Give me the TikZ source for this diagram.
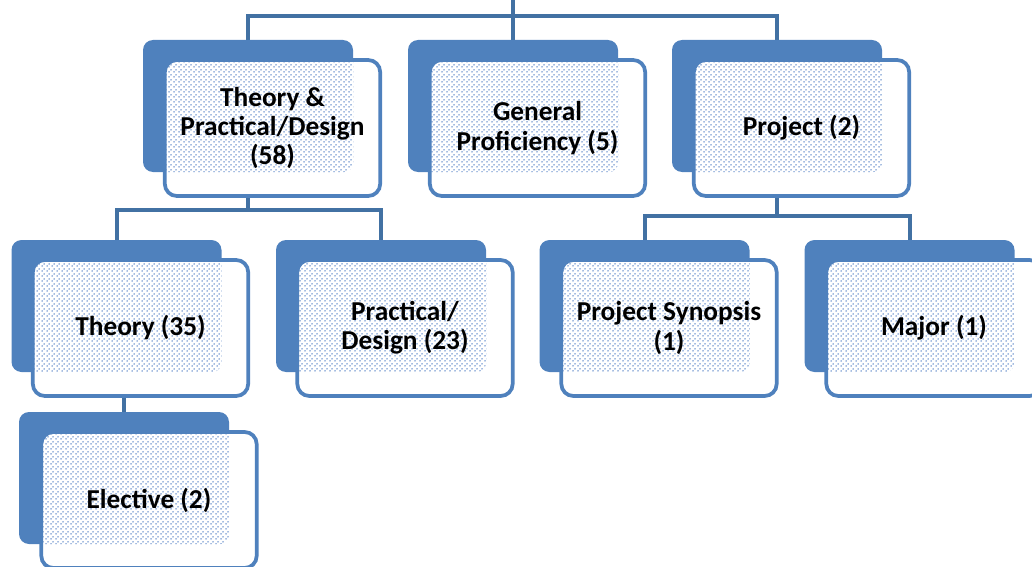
\documentclass[tikz,border=0pt]{standalone}
\usepackage{fontspec}
\setmainfont{Carlito}
\usetikzlibrary{patterns,backgrounds}
\definecolor{cblue}{RGB}{79,129,189}
\definecolor{clink}{RGB}{66,113,163}
\definecolor{cdots}{RGB}{72,120,194}
% staggered dot fill seen through the cards
\pgfdeclarepatternformonly{carddots}{\pgfpointorigin}{\pgfqpoint{3.4pt}{3.4pt}}{\pgfqpoint{3.4pt}{3.4pt}}{
  \pgfpathcircle{\pgfqpoint{0.85pt}{0.85pt}}{0.62pt}
  \pgfpathcircle{\pgfqpoint{2.55pt}{2.55pt}}{0.62pt}
  \pgfusepath{fill}}
\tikzset{
  back/.style={rectangle, rounded corners=7.5pt, fill=cblue,
    minimum width=157.5pt, minimum height=99pt, inner sep=0pt},
  card/.style={rectangle, rounded corners=9pt, draw=cblue, fill=white,
    line width=2.8pt, minimum width=161.5pt, minimum height=102pt,
    font=\fontsize{20.5}{22}\selectfont\bfseries, align=center,
    path picture={
      \clip[rounded corners=7.5pt] (#1.south west) rectangle (#1.north east);
      \fill[pattern=carddots, pattern color=cdots]
        (path picture bounding box.south west) rectangle (path picture bounding box.north east);
    }},
  link/.style={draw=clink, line width=3pt}
}

\begin{document}
\begin{tikzpicture}[x=0.75pt, y=-0.75pt]
  \useasboundingbox (0,0) rectangle (1032,567);

  % first row
  \node[back] (tpd) at (248,106) {};
  \node[card=tpd] (tpd-f) at ([shift={(24.5,22)}]tpd.center) {Theory \&\\Practical/Design\\(58)};
  \node[back] (gp) at (513,106) {};
  \node[card=gp] (gp-f) at ([shift={(24.5,22)}]gp.center) {General\\Proficiency (5)};
  \node[back] (prj) at (777,106) {};
  \node[card=prj] (prj-f) at ([shift={(24.5,22)}]prj.center) {Project (2)};

  % second row
  \node[back] (th) at (116.5,306) {};
  \node[card=th] (th-f) at ([shift={(24,22)}]th.center) {Theory (35)};
  \node[back] (pd) at (381,306) {};
  \node[card=pd] (pd-f) at ([shift={(24,22)}]pd.center) {Practical/\\Design (23)};
  \node[back] (syn) at (644.5,306) {};
  \node[card=syn] (syn-f) at ([shift={(24.5,22)}]syn.center) {Project Synopsis\\(1)};
  \node[back] (maj) at (909.5,306) {};
  \node[card=maj] (maj-f) at ([shift={(24.5,22)}]maj.center) {Major (1)};

  % third row
  \node[back] (ele) at (124,478) {};
  \node[card=ele] (ele-f) at ([shift={(25,22)}]ele.center) {Elective (2)};

  \coordinate (top) at (513,-2);

  \begin{scope}[on background layer]
    \draw[link] (top) -- (gp.north);
    \draw[link] (tpd.north) -- ++(0,-24) -| (prj.north);
    \draw[link] (tpd.south) -- ++(0,38);
    \draw[link] (th.north) -- ++(0,-30) -| (pd.north);
    \draw[link] (prj.south) -- ++(0,45);
    \draw[link] (syn.north) -- ++(0,-24) -| (maj.north);
    \draw[link] (ele.north |- th.south) -- (ele.north);
  \end{scope}
\end{tikzpicture}
\end{document}
